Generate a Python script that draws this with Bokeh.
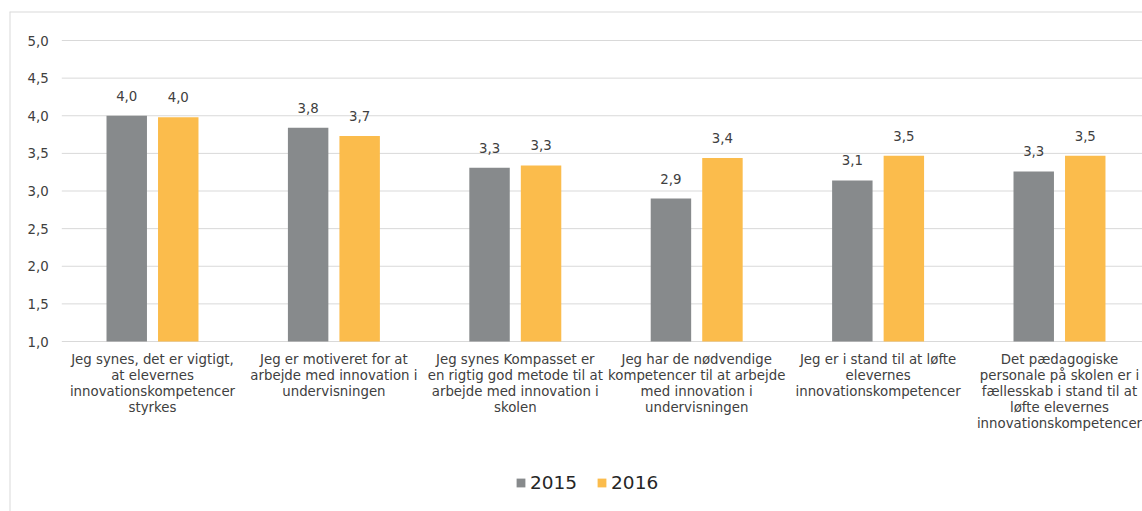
import numpy as np
from bokeh.plotting import figure
from bokeh.models import ColumnDataSource, Range1d, Legend, LegendItem
from bokeh.transform import dodge
from bokeh.core.properties import value
from bokeh.embed import file_html
from bokeh.resources import INLINE

# ---------------- data ----------------
categories = [
    "Jeg synes, det er vigtigt,\nat elevernes\ninnovationskompetencer\nstyrkes",
    "Jeg er motiveret for at\narbejde med innovation i\nundervisningen",
    "Jeg synes Kompasset er\nen rigtig god metode til at\narbejde med innovation i\nskolen",
    "Jeg har de nødvendige\nkompetencer til at arbejde\nmed innovation i\nundervisningen",
    "Jeg er i stand til at løfte\nelevernes\ninnovationskompetencer",
    "Det pædagogiske\npersonale på skolen er i\nfællesskab i stand til at\nløfte elevernes\ninnovationskompetencer",
]
series_names = ["2015", "2016"]
values_2015 = [4.00, 3.84, 3.31, 2.90, 3.14, 3.26]
values_2016 = [3.98, 3.73, 3.34, 3.44, 3.47, 3.47]
y_ticks = [1.0, 1.5, 2.0, 2.5, 3.0, 3.5, 4.0, 4.5, 5.0]
y_tick_labels = ["1,0", "1,5", "2,0", "2,5", "3,0", "3,5", "4,0", "4,5", "5,0"]

# ---------------- style ----------------
FONT = "DejaVu Sans"
GREY = "#878a8c"
ORANGE = "#fbbc4c"
GRID = "#d9d9d9"
TEXT = "#404040"
FS = "13.33px"


def fmt(v):
    return f"{v:.1f}".replace(".", ",")


X0, X1 = -0.2883, 5.9576
Y0, Y1 = -1.2591, 5.3854

p = figure(
    width=1142, height=511,
    output_backend="svg", toolbar_location=None,
    x_range=Range1d(X0, X1),
    y_range=Range1d(Y0, Y1),
    x_axis_type=None, y_axis_type=None,
    min_border_left=9, min_border_right=0, min_border_top=11, min_border_bottom=0,
)
p.grid.visible = False
p.outline_line_color = None
p.background_fill_color = "white"
p.border_fill_color = "white"

# chart-area border (left and top edges; right/bottom lie outside the view)
p.vspan(x=[X0], line_color=GRID, line_width=2)
p.hspan(y=[Y1], line_color=GRID, line_width=2)

n = len(categories)
x = np.arange(n) + 0.5
base = y_ticks[0]

# gridlines
p.segment(x0=[0] * len(y_ticks), x1=[n] * len(y_ticks), y0=y_ticks, y1=y_ticks,
          line_color=GRID, line_width=1)

# y tick labels
p.text(x=[0] * len(y_ticks), y=y_ticks, text=y_tick_labels, x_offset=-13,
       text_align="right", text_baseline="middle",
       text_font=value(FONT), text_font_size=FS, text_color=TEXT)

src = ColumnDataSource(dict(
    x=x, v15=values_2015, v16=values_2016,
    l15=[fmt(v) for v in values_2015], l16=[fmt(v) for v in values_2016],
))

OFF = 0.142
W = 0.223
r15 = p.vbar(x=dodge("x", -OFF), top="v15", bottom=base, width=W, source=src,
             fill_color=GREY, line_color=None)
r16 = p.vbar(x=dodge("x", OFF), top="v16", bottom=base, width=W, source=src,
             fill_color=ORANGE, line_color=None)

for col, lab, off in (("v15", "l15", -OFF), ("v16", "l16", OFF)):
    p.text(x=dodge("x", off), y=col, text=lab, source=src, y_offset=-20,
           text_align="center", text_baseline="middle",
           text_font=value(FONT), text_font_size=FS, text_color=TEXT)

# category labels (multi-line, centred under each group)
cx, cy, ct, co = [], [], [], []
for i, c in enumerate(categories):
    for k, line in enumerate(c.split("\n")):
        cx.append(x[i])
        cy.append(base)
        ct.append(line)
        co.append(18 + 16 * k)
csrc = ColumnDataSource(dict(x=cx, y=cy, t=ct, o=co))
p.text(x="x", y="y", text="t", y_offset="o", source=csrc,
       text_align="center", text_baseline="middle",
       text_font=value(FONT), text_font_size=FS, text_color=TEXT)

legend = Legend(
    items=[LegendItem(label=series_names[0], renderers=[r15]),
           LegendItem(label=series_names[1], renderers=[r16])],
    orientation="horizontal", location=(506, 18),
    glyph_width=11, glyph_height=11, label_standoff=4, spacing=19,
    padding=0, margin=0, border_line_color=None, background_fill_alpha=0,
    label_text_font=FONT, label_text_font_size="18.5px", label_text_color="#262626",
)
p.add_layout(legend)

open("out.html", "w").write(file_html(p, INLINE))
